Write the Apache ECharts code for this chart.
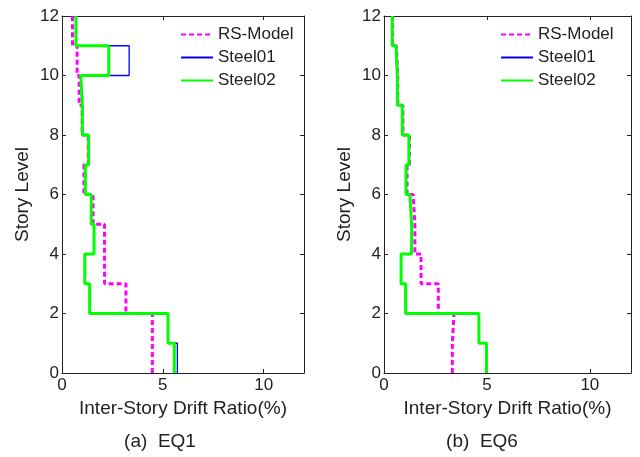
<!DOCTYPE html>
<html><head><meta charset="utf-8">
<script src="https://cdn.jsdelivr.net/npm/echarts@6/dist/echarts.min.js"></script>
<style>html,body{margin:0;padding:0;background:#fff}#c{width:640px;height:457px}</style>
</head><body><div id="c"></div>
<script>
// Drift ratio (%) per story, index 0 = story 0-1 ... index 11 = story 11-12
const seriesNames = ['RS-Model', 'Steel01', 'Steel02'];
const rsA   = [4.48, 4.48, 3.17, 2.11, 2.11, 1.54, 1.09, 1.30, 1.00, 0.85, 0.75, 0.52];
const s01A  = [5.72, 5.26, 1.37, 1.13, 1.59, 1.45, 1.16, 1.32, 1.01, 0.93, 3.33, 0.69];
const s02A  = [5.57, 5.26, 1.37, 1.13, 1.59, 1.45, 1.16, 1.32, 1.01, 0.93, 2.32, 0.69];
const rsB   = [3.32, 3.40, 2.64, 1.80, 1.50, 1.42, 1.12, 1.24, 0.92, 0.67, 0.60, 0.42];
const s01B  = [4.98, 4.61, 1.05, 0.83, 1.34, 1.26, 1.07, 1.21, 0.89, 0.65, 0.58, 0.40];
const s02B  = [4.98, 4.61, 1.05, 0.83, 1.34, 1.26, 1.07, 1.21, 0.89, 0.65, 0.58, 0.40];
const captions = ['(a)  EQ1', '(b)  EQ6'];
const xName = 'Inter-Story Drift Ratio(%)';
const yName = 'Story Level';

function steps(v) {
  const pts = [];
  v.forEach((d, i) => { pts.push([d, i]); pts.push([d, i + 1]); });
  return pts;
}

const font = 'Liberation Sans, Arial, sans-serif';
const grids = [
  {left: 62, right: 336, top: 16, bottom: 84},
  {left: 384, right: 9, top: 16, bottom: 84}
];
const xAxes = [], yAxes = [];
[0, 1].forEach(g => {
  xAxes.push({type: 'value', gridIndex: g, min: 0, max: 12, interval: 5, position: 'bottom',
    name: xName, nameLocation: 'middle', nameGap: 25,
    nameTextStyle: {fontFamily: font, fontSize: 19, color: '#222'},
    axisLine: {lineStyle: {color: '#222', width: 1}},
    axisTick: {inside: true, length: 4, lineStyle: {color: '#222'}},
    axisLabel: {fontFamily: font, fontSize: 17, color: '#222', margin: 4, showMaxLabel: false},
    splitLine: {show: false}});
  xAxes.push({type: 'value', gridIndex: g, min: 0, max: 12, interval: 5, position: 'top',
    axisLine: {show: true, onZero: false, lineStyle: {color: '#222', width: 1}},
    axisTick: {inside: true, length: 4, lineStyle: {color: '#222'}},
    axisLabel: {show: false}, splitLine: {show: false}});
  yAxes.push({type: 'value', gridIndex: g, min: 0, max: 12, interval: 2, position: 'left',
    name: yName, nameLocation: 'middle', nameGap: 30, nameRotate: 90,
    nameTextStyle: {fontFamily: font, fontSize: 19, color: '#222'},
    axisLine: {show: true, lineStyle: {color: '#222', width: 1}},
    axisTick: {show: true, inside: true, length: 4, lineStyle: {color: '#222'}},
    axisLabel: {fontFamily: font, fontSize: 17, color: '#222', margin: 3},
    splitLine: {show: false}});
  yAxes.push({type: 'value', gridIndex: g, min: 0, max: 12, interval: 2, position: 'right',
    axisLine: {show: true, onZero: false, lineStyle: {color: '#222', width: 1}},
    axisTick: {show: true, inside: true, length: 4, lineStyle: {color: '#222'}},
    axisLabel: {show: false}, splitLine: {show: false}});
});

const styles = [
  {color: '#ff00ff', width: 3, type: [5, 3]},
  {color: '#0000ff', width: 1.3, type: 'solid'},
  {color: '#00ff00', width: 3, type: 'solid'}
];
const dataSets = [[rsA, s01A, s02A], [rsB, s01B, s02B]];
const series = [];
dataSets.forEach((set, g) => {
  set.forEach((v, k) => {
    series.push({type: 'line', name: seriesNames[k], xAxisIndex: g * 2, yAxisIndex: g * 2,
      data: steps(v), symbol: 'none', silent: true, animation: false,
      lineStyle: {color: styles[k].color, width: styles[k].width, type: styles[k].type},
      itemStyle: {color: styles[k].color}});
  });
});

const legends = [175, 495].map(l => ({
  left: l, top: 21, orient: 'vertical', itemWidth: 32, itemHeight: 14, itemGap: 6,
  itemStyle: {opacity: 0},
  textStyle: {fontFamily: font, fontSize: 17, color: '#222'},
  data: seriesNames.slice(),
  selectedMode: false
}));

const chart = echarts.init(document.getElementById('c'), null, {renderer: 'canvas'});
chart.setOption({
  animation: false,
  grid: grids, xAxis: xAxes, yAxis: yAxes, series: series, legend: legends,
  graphic: captions.map((t, i) => ({type: 'text', x: i === 0 ? 160 : 482, y: 442,
    style: {text: t, fontFamily: 'Liberation Sans Narrow, Liberation Sans, sans-serif', fontSize: 19,
      fill: '#222', align: 'center', verticalAlign: 'middle'}}))
});
</script></body></html>
